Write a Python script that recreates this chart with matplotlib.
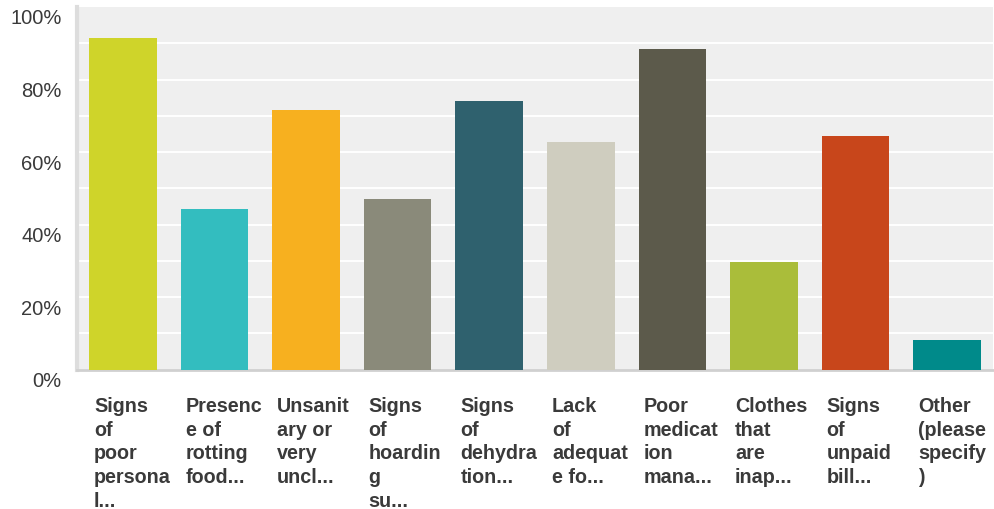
import matplotlib
matplotlib.use("Agg")
import matplotlib.pyplot as plt
import matplotlib.transforms as mtransforms

# answer choices (as truncated/wrapped in the survey export)
labels = [
    "Signs\nof\npoor\npersona\nl...",
    "Presenc\ne of\nrotting\nfood...",
    "Unsanit\nary or\nvery\nuncl...",
    "Signs\nof\nhoardin\ng\nsu...",
    "Signs\nof\ndehydra\ntion...",
    "Lack\nof\nadequat\ne fo...",
    "Poor\nmedicat\nion\nmana...",
    "Clothes\nthat\nare\ninap...",
    "Signs\nof\nunpaid\nbill...",
    "Other\n(please\nspecify\n)",
]
percent = [91.4, 44.4, 71.7, 47.2, 74.2, 62.9, 88.3, 29.8, 64.3, 8.2]
colors = ["#cfd42a", "#33bdbf", "#f7b01f", "#8a8a7a", "#2f616e",
          "#cfcdbf", "#5c5a4b", "#aabd3a", "#c8461b", "#008a8a"]
yticks = [0, 20, 40, 60, 80, 100]

plt.rcParams["font.family"] = ["Liberation Sans", "DejaVu Sans"]

fig = plt.figure(figsize=(9.94, 5.10), dpi=100)
ax = fig.add_axes([77 / 994, (510 - 370.7) / 510, 916 / 994, 362.7 / 510])
ax.set_facecolor("#efefef")

bar_w = 0.74
xs = list(range(len(percent)))
ax.bar(xs, percent, width=bar_w, color=colors, zorder=3)

ax.set_xlim(-0.5, len(percent) - 0.5)
ax.set_ylim(0, 100)

# white grid every 10%
for g in range(10, 100, 10):
    ax.axhline(g, color="white", lw=1.4, zorder=1)

for s in ["top", "right"]:
    ax.spines[s].set_visible(False)
ax.spines["left"].set_color("#dddddd")
ax.spines["left"].set_linewidth(3)
ax.spines["bottom"].set_color("#d0d0d0")
ax.spines["bottom"].set_linewidth(2)

ax.set_xticks([])
ax.set_yticks(yticks)
ax.set_yticklabels([f"{v}%" for v in yticks], fontsize=14.5, color="#3a3a3a")
ax.tick_params(axis="y", length=0, pad=11)
shift = mtransforms.ScaledTranslation(0, -9 / 100, fig.dpi_scale_trans)
for t in ax.get_yticklabels():
    t.set_transform(t.get_transform() + shift)

# category labels, one text per wrapped line so the spacing is exact
line_h = 23.6
for i, lab in enumerate(labels):
    for j, part in enumerate(lab.split("\n")):
        ax.annotate(part, xy=(i - bar_w / 2, 0), xycoords=("data", "axes fraction"),
                    xytext=(5, -41.5 - line_h * j), textcoords="offset pixels",
                    ha="left", va="baseline", fontsize=14.2, fontweight="bold",
                    color="#3a3a3a")

fig.savefig("out.png", dpi=100)
